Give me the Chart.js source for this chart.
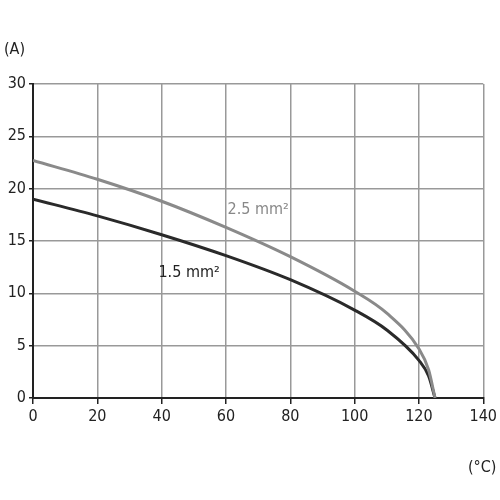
<!DOCTYPE html>
<html><head><meta charset="utf-8">
<script src="https://cdn.jsdelivr.net/npm/chart.js"></script>
<style>body{margin:0;background:#fff}#wrap{width:500px;height:500px}</style>
</head><body><div id="wrap"><canvas id="c" width="500" height="500"></canvas></div>
<script>
const temps = [0, 20, 40, 60, 80, 100, 110, 120, 123, 125];
const amps15 = [19, 17.4, 15.6, 13.6, 11.3, 8.4, 6.5, 3.6, 2.1, 0];
const amps25 = [22.7, 20.9, 18.8, 16.3, 13.5, 10.2, 8.1, 4.7, 2.7, 0];
const labels = ['1.5 mm²', '2.5 mm²'];
const font = '"Liberation Sans Narrow", "DejaVu Sans Condensed", sans-serif';

const pts = ys => temps.map((t, i) => ({x: t, y: ys[i]}));

const extraText = {
  id: 'extraText',
  afterDraw(chart) {
    const {ctx, scales: {x, y}} = chart;
    ctx.save();
    ctx.font = '16px ' + font;
    ctx.fillStyle = '#222';
    ctx.textBaseline = 'middle';
    ctx.fillText('(A)', 4, 50);
    ctx.fillText('(°C)', 468, 468);
    ctx.fillStyle = '#888';
    ctx.fillText(labels[1], x.getPixelForValue(60.5), y.getPixelForValue(18));
    ctx.fillStyle = '#222';
    ctx.fillText(labels[0], x.getPixelForValue(39), y.getPixelForValue(12));
    ctx.restore();
  }
};

new Chart(document.getElementById('c'), {
  type: 'line',
  data: {datasets: [
    {data: pts(amps25), borderColor: '#8a8a8a', borderWidth: 3, pointRadius: 0, cubicInterpolationMode: 'monotone'},
    {data: pts(amps15), borderColor: '#2a2a2a', borderWidth: 3, pointRadius: 0, cubicInterpolationMode: 'monotone'}
  ]},
  options: {
    responsive: false, animation: false,
    layout: {padding: {left: 0, right: 15, top: 84, bottom: 72}},
    plugins: {legend: {display: false}, tooltip: {enabled: false}},
    scales: {
      x: {type: 'linear', min: 0, max: 140,
        afterFit: s => { s.height = 30; },
        ticks: {stepSize: 20, color: '#222', font: {family: font, size: 16}},
        grid: {color: '#999', lineWidth: 1.5, tickLength: 6, tickColor: '#222'},
        border: {color: '#222', width: 2}},
      y: {min: 0, max: 30,
        afterFit: s => { s.width = 33; },
        ticks: {stepSize: 5, color: '#222', font: {family: font, size: 16}},
        grid: {color: '#999', lineWidth: 1.5, tickLength: 4, tickColor: '#222'},
        border: {color: '#222', width: 2}}
    }
  },
  plugins: [extraText]
});
</script></body></html>
